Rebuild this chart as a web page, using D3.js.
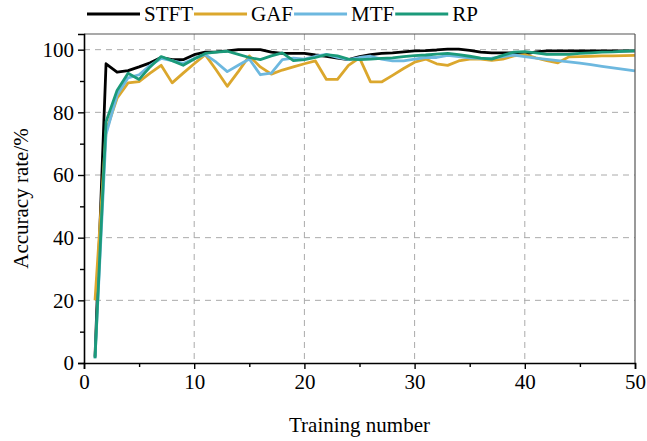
<!DOCTYPE html>
<html>
<head>
<meta charset="utf-8">
<script src="https://cdn.jsdelivr.net/npm/d3@7"></script>
<style>
  body { margin: 0; background: #fff; }
  svg { display: block; font-family: "Liberation Serif", "Times New Roman", serif; }
</style>
</head>
<body>
<div class="chart"></div>
<script>
// accuracy per training run
var series = ["STFT", "GAF", "MTF", "RP"];
var colours = ["#000000", "#dba72d", "#6db8df", "#1b9a7a"];

var stft = [2, 95.5, 92.8, 93.3, 94.5, 95.8, 97.5, 96.8, 96.8, 98.4,
    99.2, 99.3, 99.6, 100, 100, 100, 99.2, 98.8, 98.8, 98.8,
    98.3, 97.9, 97.3, 96.8, 97.8, 98.4, 98.8, 99, 99.3, 99.6,
    99.7, 99.9, 100.2, 100.2, 99.8, 99.2, 99, 99, 99, 98.6,
    99.3, 99.6, 99.6, 99.6, 99.6, 99.6, 99.6, 99.6, 99.6, 99.6];
var gaf = [20, 74, 84.5, 89.4, 89.8, 92.5, 95, 89.4, 92.5, 95.5,
    98.4, 93.5, 88.3, 93, 98, 94.5, 92.2, 93.5, 94.5, 95.5,
    96.4, 90.5, 90.5, 95, 97.4, 89.7, 89.7, 91.8, 94, 96,
    97, 95.5, 95, 96.4, 97, 97, 96.6, 97, 98, 98.4,
    97.4, 96.5, 95.8, 97.7, 97.8, 97.9, 98, 98, 98.1, 98.2];
var mtf = [1.5, 73, 85.5, 91, 92, 95, 97.2, 96.5, 95.6, 97.2,
    98.4, 96, 93, 95, 97, 92, 92.5, 96.8, 97.3, 97,
    97.9, 98.5, 97.5, 96.8, 97.5, 97.9, 97, 96.4, 96.4, 97,
    97.5, 97.5, 98.2, 97.8, 97.4, 97.2, 97.3, 97.8, 98.3, 97.8,
    97.3, 96.9, 96.5, 96.1, 95.7, 95.2, 94.7, 94.2, 93.7, 93.2];
var rp = [1.5, 77, 87, 92.5, 90.5, 94.5, 97.8, 96.5, 95, 97,
    98.8, 99.2, 99.5, 98.5, 97.5, 96.8, 98, 99, 96.5, 96.8,
    97.5, 98.4, 98, 97, 96.8, 97, 97.2, 97.4, 97.8, 98.1,
    98.3, 98.6, 98.8, 98.4, 97.9, 97.3, 97, 98.2, 99.2, 99.4,
    99, 98.5, 98.5, 98.5, 98.8, 99, 99.2, 99.3, 99.5, 99.6];

var xTicks = [0, 10, 20, 30, 40, 50];
var yTicks = [0, 20, 40, 60, 80, 100];

var width = 647, height = 441;
var margin = {top: 34, right: 12, bottom: 78, left: 84};
var w = width - margin.left - margin.right;
var h = height - margin.top - margin.bottom;

var svg = d3.select(".chart").append("svg")
    .attr("width", width).attr("height", height);

var g = svg.append("g").attr("transform", `translate(${margin.left},${margin.top})`);

var x = d3.scaleLinear().domain([0, 50]).range([0, w]);
var y = d3.scaleLinear().domain([0, 105]).range([h, 0]);

// dashed grid
g.append("g").selectAll("line")
    .data(yTicks.filter(d => d > 0))
    .enter().append("line")
    .attr("x1", 0).attr("x2", w)
    .attr("y1", d => y(d)).attr("y2", d => y(d))
    .attr("stroke", "#aaaaaa").attr("stroke-width", 1).attr("stroke-dasharray", "6,5");

g.append("g").selectAll("line")
    .data(xTicks.filter(d => d > 0 && d < 50))
    .enter().append("line")
    .attr("y1", 0).attr("y2", h)
    .attr("x1", d => x(d)).attr("x2", d => x(d))
    .attr("stroke", "#aaaaaa").attr("stroke-width", 1).attr("stroke-dasharray", "6,5");

// lines (STFT underneath so the start near zero shows the colours)
var all = [stft, gaf, mtf, rp];
var line = d3.line().x((d, i) => x(i + 1)).y(d => y(d));
var drawOrder = [0, 1, 2, 3];
drawOrder.forEach(k => {
    g.append("path")
        .datum(all[k])
        .attr("fill", "none")
        .attr("stroke", colours[k])
        .attr("stroke-width", 2.8)
        .attr("stroke-linejoin", "round")
        .attr("d", line);
});

// frame top/right
g.append("line").attr("x1", 0).attr("x2", w).attr("y1", 0).attr("y2", 0)
    .attr("stroke", "#555").attr("stroke-width", 1.2);
g.append("line").attr("x1", w).attr("x2", w).attr("y1", 0).attr("y2", h)
    .attr("stroke", "#555").attr("stroke-width", 1.2);

// axes
var xAxis = g.append("g").attr("transform", `translate(0,${h})`)
    .call(d3.axisBottom(x).tickValues(xTicks).tickSize(6).tickPadding(5));
var xMinor = g.append("g").attr("transform", `translate(0,${h})`)
    .call(d3.axisBottom(x).tickValues([5, 15, 25, 35, 45]).tickSize(4).tickFormat(""));
var yAxis = g.append("g")
    .call(d3.axisLeft(y).tickValues(yTicks).tickSize(6).tickPadding(4));
var yMinor = g.append("g")
    .call(d3.axisLeft(y).tickValues([10, 30, 50, 70, 90]).tickSize(4).tickFormat(""));

[xAxis, xMinor, yAxis, yMinor].forEach(a => {
    a.select(".domain").attr("stroke", "#000").attr("stroke-width", 1.6);
    a.selectAll(".tick line").attr("stroke", "#000").attr("stroke-width", 1.4);
    a.selectAll("text").attr("font-family", "Liberation Serif, serif")
        .attr("font-size", 21).attr("fill", "#000");
});
xMinor.select(".domain").remove();
yMinor.select(".domain").remove();

// titles
svg.append("text")
    .attr("x", margin.left + w / 2).attr("y", 432)
    .attr("text-anchor", "middle").attr("font-size", 21)
    .text("Training number");

svg.append("text")
    .attr("transform", `translate(28,${margin.top + h / 2}) rotate(-90)`)
    .attr("text-anchor", "middle").attr("font-size", 21)
    .text("Accuracy rate/%");

// legend
var legend = svg.append("g").attr("transform", "translate(87,14)");
var lx = 0;
series.forEach((s, i) => {
    legend.append("line")
        .attr("x1", lx).attr("x2", lx + 53).attr("y1", 0).attr("y2", 0)
        .attr("stroke", colours[i]).attr("stroke-width", 3.2);
    var t = legend.append("text")
        .attr("x", lx + 57).attr("y", 7)
        .attr("font-size", 21)
        .text(s);
    lx += 57 + t.node().getComputedTextLength() + 1;
});
</script>
</body>
</html>
